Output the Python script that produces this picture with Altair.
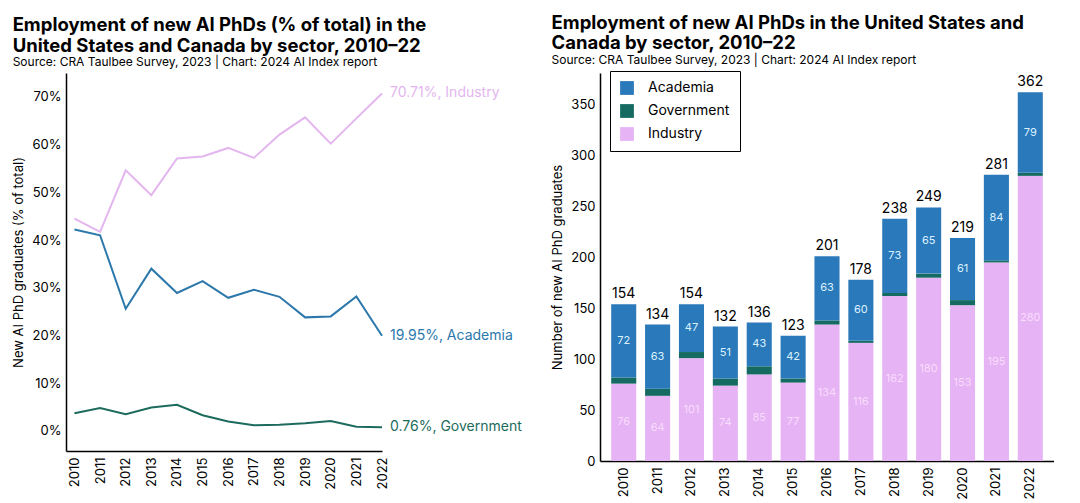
import altair as alt
import pandas as pd

years = list(range(2010, 2023))
sectors = ["Academia", "Government", "Industry"]

# Left chart: share of new AI PhDs (% of total)
pct_industry = [44.5, 41.7, 54.6, 49.4, 57.1, 57.5, 59.3, 57.2, 62.1, 65.7, 60.2, 65.5, 70.71]
pct_academia = [42.2, 41.0, 25.6, 34.0, 28.9, 31.4, 27.9, 29.6, 28.1, 23.8, 24.0, 28.2, 19.95]
pct_government = [3.7, 4.8, 3.5, 4.9, 5.5, 3.3, 2.0, 1.2, 1.3, 1.6, 2.1, 0.9, 0.76]

# Right chart: number of new AI PhDs
n_academia = [72, 63, 47, 51, 43, 42, 63, 60, 73, 65, 61, 84, 79]
n_government = [6, 7, 6, 7, 8, 4, 4, 2, 3, 4, 5, 2, 3]
n_industry = [76, 64, 101, 74, 85, 77, 134, 116, 162, 180, 153, 195, 280]

line_colors = ["#e4b6ef", "#2c78ab", "#1d6b5d"]
bar_colors = ["#2a79bb", "#156b61", "#e6b3f5"]
FONT = "Inter"

pct_rows = []
for name, vals in [("Industry", pct_industry), ("Academia", pct_academia), ("Government", pct_government)]:
    for y, v in zip(years, vals):
        pct_rows.append({"year": y, "sector": name, "value": v})
pct_df = pd.DataFrame(pct_rows)

cnt_rows = []
for name, vals, order in [("Industry", n_industry, 0), ("Government", n_government, 1), ("Academia", n_academia, 2)]:
    for y, v in zip(years, vals):
        cnt_rows.append({"year": y, "sector": name, "count": v, "order": order})
cnt_df = pd.DataFrame(cnt_rows)

# ---------------- Left chart ----------------
x_left = alt.X(
    "year:Q",
    scale=alt.Scale(domain=[2009.67, 2022], nice=False, zero=False),
    axis=alt.Axis(values=years, format="d", labelAngle=-90, ticks=False, grid=False,
                  domainColor="black", domainWidth=1.5, title=None, labelFontSize=13,
                  labelPadding=6, labelColor="black"),
)
y_left = alt.Y(
    "value:Q",
    scale=alt.Scale(domain=[-4.2, 75], nice=False, zero=False),
    axis=alt.Axis(values=[0, 10, 20, 30, 40, 50, 60, 70], labelExpr="datum.value + '%'",
                  title="New AI PhD graduates (% of total)", ticks=False, grid=False,
                  domainColor="black", domainWidth=1.5, labelFontSize=13, labelPadding=5,
                  titleFontSize=13, titleFontWeight="normal", titlePadding=6, labelColor="black"),
)
color_left = alt.Color(
    "sector:N",
    scale=alt.Scale(domain=["Industry", "Academia", "Government"], range=line_colors),
    legend=None,
)

left_base = alt.Chart(pct_df)
left_lines = left_base.mark_line(strokeWidth=2).encode(x=x_left, y=y_left, color=color_left)
left_labels = (
    left_base.transform_filter(alt.datum.year == 2022)
    .transform_calculate(label="format(datum.value, '.2f') + '%, ' + datum.sector")
    .mark_text(align="left", baseline="middle", dx=8, fontSize=14)
    .encode(x=x_left, y=y_left, color=color_left, text="label:N")
)
left = alt.layer(left_lines, left_labels).properties(
    width=316,
    height=378,
    title=alt.TitleParams(
        text=["Employment of new AI PhDs (% of total) in the", "United States and Canada by sector, 2010–22"],
        subtitle="Source: CRA Taulbee Survey, 2023 | Chart: 2024 AI Index report",
    ),
)

# ---------------- Right chart ----------------
x_right = alt.X(
    "year:O",
    scale=alt.Scale(paddingInner=0.26, paddingOuter=0.33),
    axis=alt.Axis(labelAngle=-90, ticks=False, grid=False, domainColor="black", domainWidth=1.5,
                  title=None, labelFontSize=13, labelPadding=6, labelColor="black"),
)
y_axis_right = alt.Axis(values=[0, 50, 100, 150, 200, 250, 300, 350], title="Number of new AI PhD graduates",
                        ticks=False, grid=False, domainColor="black", domainWidth=1.5, labelFontSize=13,
                        labelPadding=5, titleFontSize=13, titleFontWeight="normal", titlePadding=6,
                        labelColor="black")
y_scale_right = alt.Scale(domain=[0, 381], nice=False)

stacked = (
    alt.Chart(cnt_df)
    .transform_stack(stack="count", groupby=["year"], as_=["y0", "y1"],
                     sort=[alt.SortField("order", order="ascending")])
    .transform_calculate(mid="(datum.y0 + datum.y1) / 2")
)
bars = stacked.mark_bar().encode(
    x=x_right,
    y=alt.Y("y0:Q", scale=y_scale_right, axis=y_axis_right),
    y2="y1:Q",
    color=alt.Color(
        "sector:N",
        scale=alt.Scale(domain=sectors, range=bar_colors),
        legend=alt.Legend(
            title=None, orient="none", legendX=10, legendY=-2, symbolType="square", symbolSize=190,
            labelFontSize=14, labelColor="black", rowPadding=9, padding=10, strokeColor="black",
            fillColor="white", symbolStrokeWidth=0, labelOffset=14,
        ),
    ),
)
seg_labels = (
    stacked.transform_filter(alt.datum.sector != "Government")
    .mark_text(fontSize=11, baseline="middle")
    .encode(
        x=x_right,
        y=alt.Y("mid:Q", scale=y_scale_right),
        text="count:Q",
        color=alt.condition(alt.datum.sector == "Academia", alt.value("#dcf2ff"), alt.value("#f8dcfc")),
    )
)
totals = (
    alt.Chart(cnt_df)
    .transform_aggregate(total="sum(count)", groupby=["year"])
    .mark_text(fontSize=14, baseline="bottom", dy=-3, color="black")
    .encode(x=x_right, y=alt.Y("total:Q", scale=y_scale_right), text="total:Q")
)
right = alt.layer(bars, seg_labels, totals).properties(
    width=454,
    height=388,
    title=alt.TitleParams(
        text=["Employment of new AI PhDs in the United States and", "Canada by sector, 2010–22"],
        subtitle="Source: CRA Taulbee Survey, 2023 | Chart: 2024 AI Index report",
    ),
)

chart = (
    alt.hconcat(left, right, spacing=29)
    .resolve_scale(color="independent")
    .resolve_legend(color="independent")
    .configure(font=FONT, padding={"left": 4, "top": 5, "right": 0, "bottom": 0})
    .configure_view(stroke=None)
    .configure_title(anchor="start", frame="bounds", fontSize=18.5, fontWeight="bold", color="black",
                     subtitleFontSize=12, subtitleColor="black", lineHeight=20.5, subtitlePadding=2,
                     offset=5)
)

chart.save("out.html", embed_options={"renderer": "svg", "actions": False})
